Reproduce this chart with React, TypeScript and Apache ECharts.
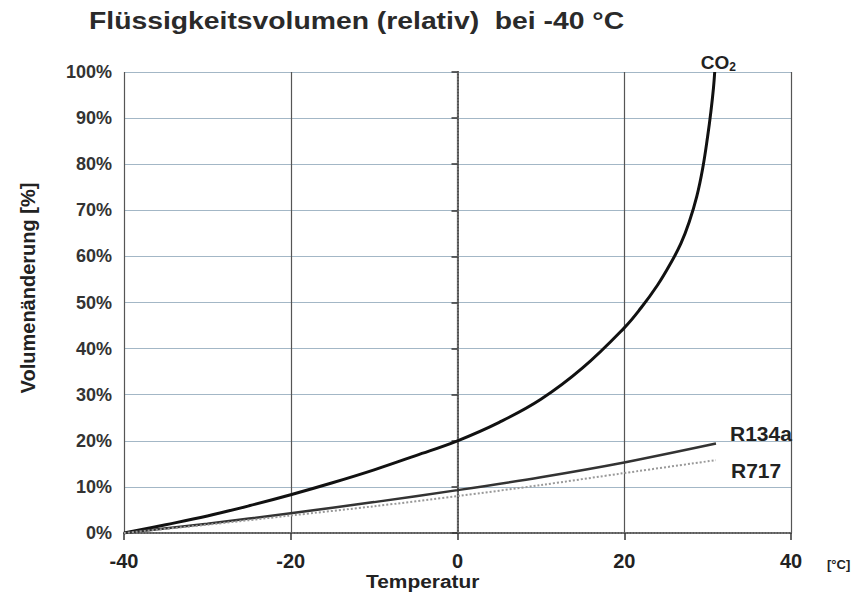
import React, { useEffect, useRef } from "react";
import * as echarts from "echarts";

const co2: [number, number][] = [
  [-40, 0], [-35, 1.8], [-30, 3.7], [-25, 5.9], [-20, 8.3], [-15, 10.9], [-10, 13.7],
  [-5, 16.8], [0, 20], [5, 24], [10, 29], [15, 35.8], [20, 44.5], [22, 48.8],
  [24, 53.8], [25.5, 58.3], [26.8, 62.8], [27.8, 67.5], [28.7, 73], [29.4, 79],
  [30, 86], [30.4, 91.5], [30.7, 96.5], [30.85, 100],
];
const r134a: [number, number][] = [
  [-40, 0], [-30, 2], [-20, 4.3], [-10, 6.7], [0, 9.3], [10, 12.1], [20, 15.3], [31, 19.4],
];
const r717: [number, number][] = [
  [-40, 0], [-30, 1.8], [-20, 3.8], [-10, 5.8], [0, 8], [10, 10.4], [20, 13], [31, 15.8],
];
const xTicks = [-40, -20, 0, 20, 40];
const yMax = 100;

const FONT = "'Liberation Sans', Arial, sans-serif";

export default function App() {
  const ref = useRef<HTMLDivElement>(null);
  useEffect(() => {
    if (!ref.current) return;
    const chart = echarts.init(ref.current, undefined, { renderer: "svg" });
    chart.setOption({
      animation: false,
      backgroundColor: "#ffffff",
      textStyle: { fontFamily: FONT },
      grid: { left: 124, right: 68, top: 72, bottom: 65, show: false },
      xAxis: [
        {
          type: "value",
          min: xTicks[0],
          max: xTicks[xTicks.length - 1],
          interval: 20,
          axisLine: { show: true, onZero: false, lineStyle: { color: "#333", width: 2 } },
          axisTick: { show: true, length: 7, lineStyle: { color: "#333", width: 1.5 } },
          axisLabel: { fontSize: 20, fontWeight: "bold", color: "#222", margin: 18 },
          splitLine: { show: true, lineStyle: { color: "#555", width: 1.2 } },
        },
        {
          type: "value",
          position: "top",
          min: xTicks[0],
          max: xTicks[xTicks.length - 1],
          axisLine: { show: true, lineStyle: { color: "#888", type: "dotted", width: 1.5 } },
          axisTick: { show: false },
          axisLabel: { show: false },
          splitLine: { show: false },
        },
      ],
      yAxis: [
        {
          type: "value",
          min: 0,
          max: yMax,
          interval: 10,
          axisLine: { show: true, lineStyle: { color: "#222", width: 2 } },
          axisTick: { show: true, length: 6, lineStyle: { color: "#333", width: 1.5 } },
          axisLabel: { fontSize: 18, fontWeight: "bold", color: "#333", margin: 12, formatter: "{value}%" },
          splitLine: { show: true, lineStyle: { color: "#a3b7c6", width: 1.2 } },
        },
        {
          type: "value",
          position: "right",
          min: 0,
          max: yMax,
          axisLine: { show: true, lineStyle: { color: "#888", type: "dotted", width: 1.5 } },
          axisTick: { show: false },
          axisLabel: { show: false },
          splitLine: { show: false },
        },
      ],
      series: [
        {
          name: "CO2",
          type: "line",
          data: co2,
          smooth: 0.4,
          showSymbol: false,
          lineStyle: { color: "#111", width: 3 },
          endLabel: {
            show: true,
            formatter: "{a|CO}{b|2}",
            offset: [-22, -10],
            rich: {
              a: { fontSize: 19, fontWeight: "bold", color: "#222", fontFamily: FONT },
              b: { fontSize: 12, fontWeight: "bold", color: "#222", fontFamily: FONT, verticalAlign: "bottom", padding: [9, 0, 0, 0] },
            },
          },
        },
        {
          name: "R134a",
          type: "line",
          data: r134a,
          smooth: 0.3,
          showSymbol: false,
          lineStyle: { color: "#333", width: 2.5 },
          endLabel: { show: true, formatter: "R134a", distance: 14, offset: [0, -10], fontSize: 21, fontWeight: "bold", color: "#222" },
        },
        {
          name: "R717",
          type: "line",
          data: r717,
          smooth: 0.3,
          showSymbol: false,
          lineStyle: { color: "#999", width: 2, type: "dotted" },
          endLabel: { show: true, formatter: "R717", distance: 15, offset: [0, 10], fontSize: 21, fontWeight: "bold", color: "#222" },
        },
      ],
      graphic: [
        {
          type: "text",
          x: 89,
          y: 9,
          scaleX: 1.18,
          style: { text: "Flüssigkeitsvolumen (relativ)  bei -40 °C", font: `bold 24px ${FONT}`, fill: "#2a2a2a" },
        },
        {
          type: "text",
          x: 28,
          y: 288,
          rotation: Math.PI / 2,
          style: {
            text: "Volumenänderung [%]",
            font: `bold 20px ${FONT}`,
            fill: "#222",
            align: "center",
            verticalAlign: "middle",
          },
        },
        {
          type: "text",
          x: 366,
          y: 572,
          scaleX: 1.1,
          style: { text: "Temperatur", font: `bold 19px ${FONT}`, fill: "#222" },
        },
        { type: "text", x: 827, y: 558, style: { text: "[°C]", font: `bold 13px ${FONT}`, fill: "#222" } },
      ],
    });
    return () => chart.dispose();
  }, []);
  return <div ref={ref} style={{ width: 859, height: 598, position: "absolute", left: 0, top: 0 }} />;
}
